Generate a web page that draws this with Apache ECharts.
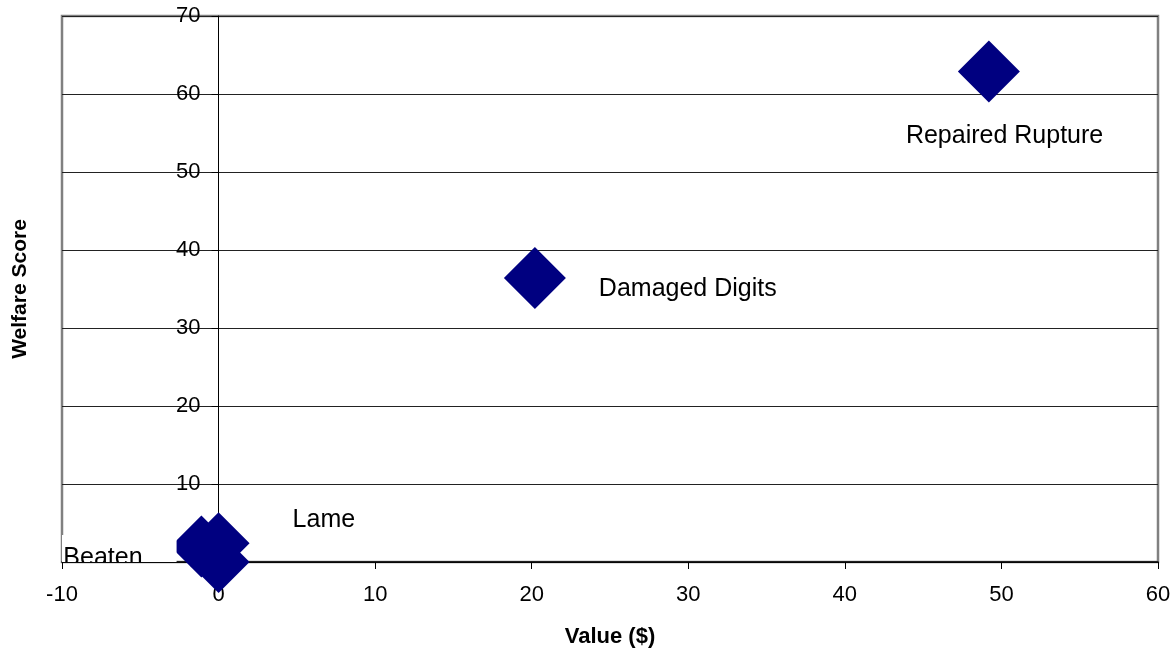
<!DOCTYPE html>
<html>
<head>
<meta charset="utf-8">
<script src="https://cdn.jsdelivr.net/npm/echarts@6/dist/echarts.min.js"></script>
<style>
  html, body { margin: 0; padding: 0; background: #fff; }
  #chart { width: 1176px; height: 658px; }
</style>
</head>
<body>
<div id="chart"></div>
<script>
// Items plotted: value in dollars against welfare score
const names = ['Repaired Rupture', 'Damaged Digits', 'Lame', 'Beaten', ''];
const values = [49.2, 20.2, 0.0, -1.1, 0.0];
const scores = [62.9, 36.4, 2.4, 2.0, 0.0];

// Axis ranges and tick spacing
const xTicks = { min: -10, max: 60, step: 10 };
const yTicks = { min: 0, max: 70, step: 10 };

// Label placement relative to each marker (pixels: dx to box start, dy to box middle)
const labelOffsets = [[-91, 65], [56, 11], [66, -23], [-146, 12], [0, 0]];

const FONT = '"Liberation Sans", Arial, sans-serif';
const W = 1176, GRID_LEFT = 62, GRID_RIGHT = 18;

// The value axis crosses the horizontal axis at x = 0
const plotWidth = W - GRID_LEFT - GRID_RIGHT;
const yAxisShift = (0 - xTicks.min) / (xTicks.max - xTicks.min) * plotWidth;

const points = names.map((n, i) => [values[i], scores[i], n]);

const chart = echarts.init(document.getElementById('chart'), null, { renderer: 'canvas' });

chart.setOption({
  animation: false,
  backgroundColor: '#fff',
  grid: {
    left: GRID_LEFT, right: GRID_RIGHT, top: 16, bottom: 96,
    containLabel: false,
    outerBoundsMode: 'none',
    show: true,
    borderColor: '#808080',
    borderWidth: 2.5,
    backgroundColor: 'transparent'
  },
  xAxis: {
    type: 'value',
    min: xTicks.min, max: xTicks.max, interval: xTicks.step,
    name: 'Value ($)',
    nameLocation: 'middle',
    nameGap: 64,
    nameTextStyle: { fontFamily: FONT, fontSize: 22, fontWeight: 'bold', color: '#000' },
    axisLine: { show: true, onZero: true, lineStyle: { color: '#000', width: 1.5 } },
    axisTick: { show: true, inside: false, length: 7, lineStyle: { color: '#000' } },
    axisLabel: { fontFamily: FONT, fontSize: 22, color: '#000', margin: 22 },
    splitLine: { show: false }
  },
  yAxis: {
    type: 'value',
    min: yTicks.min, max: yTicks.max, interval: yTicks.step,
    position: 'left',
    offset: -yAxisShift,
    name: 'Welfare Score',
    nameLocation: 'middle',
    nameGap: 188,
    nameRotate: 90,
    nameTextStyle: { fontFamily: FONT, fontSize: 21, fontWeight: 'bold', color: '#000' },
    axisLine: { show: true, onZero: false, lineStyle: { color: '#000', width: 1 } },
    axisTick: { show: true, inside: false, length: 7, lineStyle: { color: '#000' } },
    axisLabel: { fontFamily: FONT, fontSize: 22, color: '#000', margin: 18 },
    splitLine: { show: true, lineStyle: { color: '#222', width: 1 } }
  },
  series: [
    {
      type: 'scatter',
      symbol: 'diamond',
      symbolSize: 62,
      itemStyle: { color: '#000080', opacity: 1 },
      clip: false,
      data: points,
      z: 2
    },
    {
      // Point labels: boxed white text, clipped to the plot area
      type: 'custom',
      clip: true,
      z: 5,
      data: points,
      renderItem: function (params, api) {
        const i = params.dataIndex;
        const text = names[i];
        if (!text) return null;
        const p = api.coord([api.value(0), api.value(1)]);
        const off = labelOffsets[i];
        return {
          type: 'text',
          x: p[0] + off[0],
          y: p[1] + off[1],
          style: {
            text: text,
            fill: '#000',
            fontFamily: FONT,
            fontSize: 25,
            align: 'left',
            verticalAlign: 'middle',
            backgroundColor: '#fff',
            padding: [14, 34, 8, 8]
          }
        };
      }
    }
  ]
});
</script>
</body>
</html>
